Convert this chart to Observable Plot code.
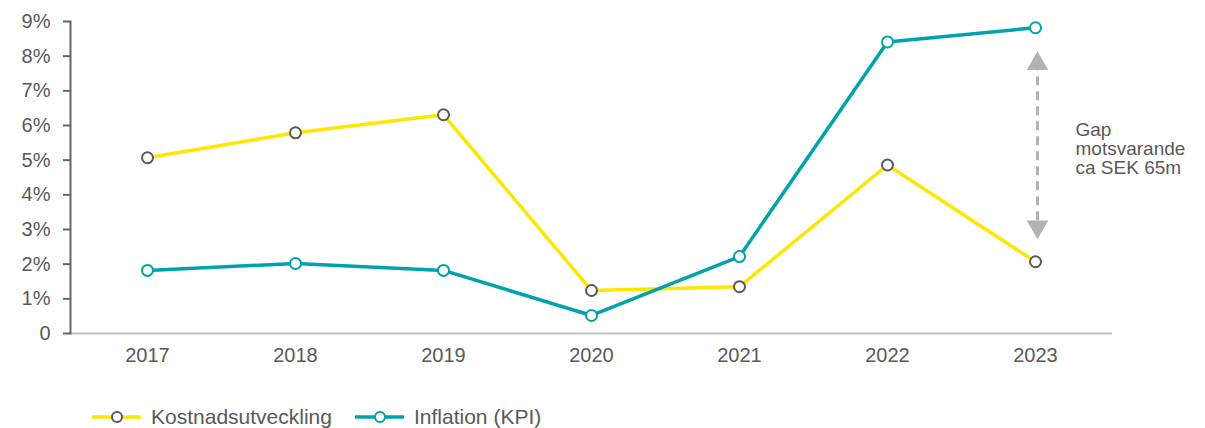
<!DOCTYPE html>
<html>
<head>
<meta charset="utf-8">
<script src="https://cdn.jsdelivr.net/npm/d3@7"></script>
<script src="https://cdn.jsdelivr.net/npm/@observablehq/plot@0.6"></script>
<style>
  body { margin: 0; background: #fff; font-family: "Liberation Sans", Arial, sans-serif; }
  #chart { position: relative; width: 1205px; height: 428px; overflow: hidden; }
  .item { position: absolute; top: 405px; height: 24px; display: flex; align-items: center; font-size: 21px; color: #595959; white-space: nowrap; }
  .item span { margin-left: 10px; }
</style>
</head>
<body>
<div id="chart"></div>
<script>
const years = ["2017", "2018", "2019", "2020", "2021", "2022", "2023"];
const kostnad = [5.07, 5.79, 6.31, 1.24, 1.35, 4.86, 2.07];
const inflation = [1.82, 2.02, 1.82, 0.52, 2.22, 8.41, 8.82];
const seriesNames = ["Kostnadsutveckling", "Inflation (KPI)"];
const lineColors = ["#FFE600", "#00A3AD"];
const markerColors = ["#595959", "#00A3AD"];
const yTicks = [0, 1, 2, 3, 4, 5, 6, 7, 8, 9];
const gapYear = "2023";
const gapRange = [3.25, 7.6];
const gapHeads = [7.78, 3.08];
const gapText = "Gap\nmotsvarande\nca SEK 65m";
const gapTextY = 5.33;

const data = [];
years.forEach((y, i) => {
  data.push({year: y, value: kostnad[i], series: seriesNames[0]});
  data.push({year: y, value: inflation[i], series: seriesNames[1]});
});

const font = '"Liberation Sans", Arial, sans-serif';
const fmt = d => d === 0 ? "0" : d + "%";

const plot = Plot.plot({
  width: 1205,
  height: 375,
  marginTop: 21,
  marginBottom: 42,
  marginLeft: 70,
  marginRight: 93,
  style: {fontFamily: font, fontSize: "20px", color: "#595959", background: "#fff", overflow: "visible"},
  x: {type: "point", domain: years, padding: 0.5, label: null},
  y: {domain: [0, 9], label: null},
  color: {domain: seriesNames, range: lineColors},
  marks: [
    Plot.ruleY([0], {stroke: "#bfbfbf", strokeWidth: 2}),
    Plot.frame({anchor: "left", stroke: "#666", strokeWidth: 2}),
    Plot.axisY({ticks: yTicks, tickSize: 7, tickPadding: 13, stroke: "#666", strokeWidth: 2,
      tickFormat: fmt, fill: "#595959", fontSize: 20, label: null}),
    Plot.axisX({tickSize: 0, tickPadding: 14, fill: "#595959", fontSize: 20, label: null}),
    Plot.line(data, {x: "year", y: "value", z: "series", stroke: "series", strokeWidth: 3.5}),
    Plot.dot(data, {x: "year", y: "value", r: 5.5, fill: "#fff",
      stroke: d => markerColors[seriesNames.indexOf(d.series)], strokeWidth: 2}),
    Plot.ruleX([gapYear], {y1: gapRange[0], y2: gapRange[1], dx: 2, stroke: "#b3b3b3",
      strokeWidth: 3, strokeDasharray: "9,6"}),
    Plot.dot(gapHeads, {x: () => gapYear, y: d => d, dx: 2, symbol: "triangle", r: 8,
      fill: "#b3b3b3", stroke: "none", rotate: (d, i) => i === 0 ? 0 : 180}),
    Plot.text([gapText], {x: () => gapYear, y: () => gapTextY, dx: 40, textAnchor: "start",
      lineAnchor: "middle", fill: "#595959", fontSize: 19, lineHeight: 1.0})
  ]
});
document.getElementById("chart").appendChild(plot);

// legend
const legendLeft = [92, 355];
seriesNames.forEach((name, i) => {
  const item = document.createElement("div");
  item.className = "item";
  item.style.left = legendLeft[i] + "px";
  item.innerHTML = `<svg width="49" height="14"><line x1="0" x2="49" y1="7" y2="7" stroke="${lineColors[i]}" stroke-width="3.5"/><circle cx="25" cy="7" r="5" fill="#fff" stroke="${markerColors[i]}" stroke-width="2"/></svg><span>${name}</span>`;
  document.getElementById("chart").appendChild(item);
});
</script>
</body>
</html>
